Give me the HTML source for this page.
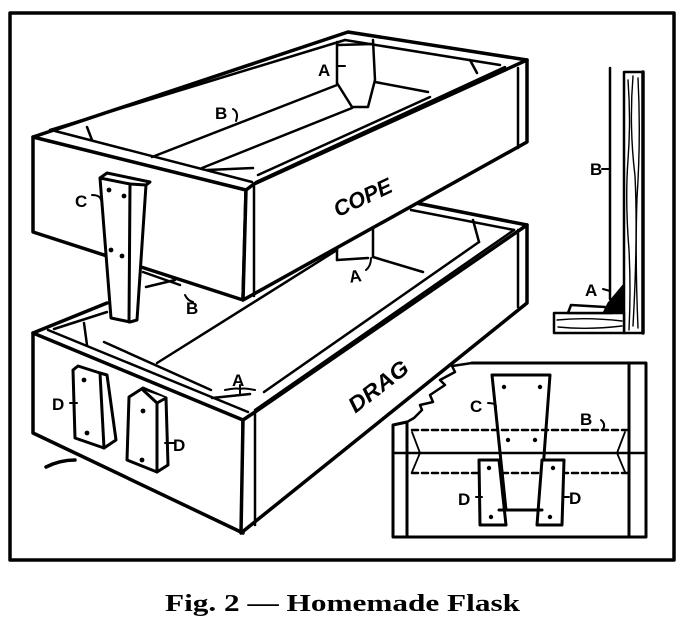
<!DOCTYPE html>
<html><head><meta charset="utf-8"><style>
html,body{margin:0;padding:0;background:#fff;}
svg{display:block;}
text{font-family:"Liberation Sans",sans-serif;font-weight:bold;fill:#000;}
</style></head><body>
<svg width="680" height="634" viewBox="0 0 680 634" xmlns="http://www.w3.org/2000/svg">
<g fill="none" stroke="#000" stroke-linejoin="round" stroke-linecap="round">
<!-- frame -->
<rect x="10" y="13" width="664" height="547" stroke-width="3.5"/>

<!-- DRAG box -->
<g stroke-width="3.5">
<polygon points="33,333 243,420 243,533 33,433" fill="#fff"/>
<polygon points="243,420 255,412 527,225 527,303 241,533" fill="#fff"/>
<line x1="255" y1="412" x2="255" y2="525" stroke-width="2.5"/>
<line x1="518" y1="230" x2="518" y2="307" stroke-width="2.5"/>
<polyline points="33,333 107,303"/>
<line x1="416" y1="203" x2="527" y2="225"/>
</g>
<g stroke-width="2.5">
<line x1="411" y1="210" x2="514" y2="230"/>
<line x1="48" y1="330" x2="248" y2="412"/>
<line x1="54" y1="329" x2="107" y2="312"/>
<line x1="255" y1="410" x2="514" y2="230"/>
<line x1="264" y1="392" x2="479" y2="242"/>
<line x1="157" y1="363" x2="337" y2="250"/>
<line x1="337" y1="248" x2="337" y2="260"/>
<line x1="337" y1="260" x2="368" y2="258"/>
<line x1="373" y1="228" x2="373" y2="257"/>
<line x1="373" y1="257" x2="423" y2="272"/>
<line x1="473" y1="220" x2="479" y2="242"/>
<line x1="84" y1="323" x2="87" y2="345"/>
<line x1="104" y1="342" x2="211" y2="390"/>
<line x1="143" y1="272" x2="180" y2="285"/>
<line x1="146" y1="287" x2="175" y2="280"/>
<line x1="212" y1="398" x2="250" y2="394"/>
</g>
<!-- D pieces -->
<g stroke-width="3" fill="#fff">
<polygon points="73,370 78,366 100,373 107,375 116,440 104,448 75,438"/>
<polyline points="100,373 104,448"/>
<polygon points="129,397 143,388 166,398 168,465 157,472 127,460"/>
<polyline points="143,390 157,403 166,398"/>
<polyline points="157,403 157,472"/>
</g>
<g fill="#000" stroke="none">
<circle cx="84" cy="380" r="2.4"/><circle cx="87" cy="433" r="2.4"/>
<circle cx="143" cy="411" r="2.4"/><circle cx="142" cy="460" r="2.4"/>
</g>
<path d="M46,467 Q60,460 75,460" stroke-width="3.5"/>

<!-- COPE box -->
<g stroke-width="3.5">
<polygon points="33,137 246,190 243,300 33,232" fill="#fff"/>
<polygon points="246,190 254,184 527,60 527,142 243,300" fill="#fff"/>
<polyline points="33,137 348,32 527,60"/>
<line x1="254" y1="186" x2="254" y2="296" stroke-width="2.5"/>
<line x1="518" y1="68" x2="518" y2="148" stroke-width="2.5"/>
</g>
<g stroke-width="2.5">
<line x1="50" y1="130" x2="345" y2="40"/>
<line x1="345" y1="40" x2="500" y2="65"/>
<line x1="55" y1="131" x2="252" y2="182"/>
<line x1="256" y1="182" x2="505" y2="67"/>
<line x1="152" y1="157" x2="337" y2="85"/>
<line x1="202" y1="168" x2="352" y2="108"/>
<line x1="258" y1="175" x2="430" y2="97"/>
<line x1="337" y1="42" x2="337" y2="83"/>
<polyline points="337,83 352,107 368,107 375,80 373,40"/>
<line x1="375" y1="82" x2="428" y2="92"/>
<line x1="470" y1="60" x2="477" y2="73"/>
<line x1="87" y1="127" x2="92" y2="140"/>
<line x1="207" y1="170" x2="253" y2="168"/>
<line x1="338" y1="45" x2="372" y2="44"/>
</g>
<!-- C piece -->
<g stroke-width="3" fill="#fff">
<polygon points="100,178 107,173 150,182 146,185 137,320 130,322 111,318"/>
<polyline points="100,178 130,184 146,185"/>
<line x1="130" y1="184" x2="129" y2="322"/>
</g>
<g fill="#000" stroke="none">
<circle cx="109" cy="190" r="2.4"/><circle cx="124" cy="196" r="2.4"/>
<circle cx="111" cy="250" r="2.4"/><circle cx="122" cy="256" r="2.4"/>
</g>

<!-- label ticks -->
<g stroke-width="2">
<line x1="337" y1="66" x2="345" y2="66"/>
<path d="M233,109 q6,3 3,12"/>
<path d="M92,195 q8,0 9,5"/>
<path d="M371,258 q0,8 -5,12"/>
<path d="M185,295 q3,6 8,7"/>
<path d="M240,390 q0,-3 -15,0 M240,390 q0,-3 15,0 M240,385 v10"/>
<line x1="70" y1="403" x2="77" y2="403"/>
<line x1="165" y1="443" x2="174" y2="443"/>
<line x1="602" y1="169" x2="610" y2="169"/>
<line x1="603" y1="289" x2="610" y2="291"/>
</g>

<!-- right side detail -->
<g stroke-width="2.5">
<line x1="610" y1="68" x2="610" y2="299"/>
<rect x="624" y="72" width="19" height="261" fill="#fff"/>
<path d="M628,80 q3,40 0,80 q-3,40 1,90 q2,40 0,80 M633,76 q-4,50 2,100 q3,60 -2,150 M638,78 q3,60 -1,120 q-2,60 1,130" stroke-width="1.4"/>
<path d="M554,313 L624,313 L624,333 L554,333 Z" fill="#fff"/>
<path d="M557,320 q30,-3 65,1 M558,327 q30,3 64,-1" stroke-width="1.4"/>
<polygon points="571,305 605,307 612,313 568,313" fill="#fff"/>
<polygon points="608,303 623,285 623,313 603,313" fill="#000" stroke-width="1"/>
<line x1="643" y1="72" x2="643" y2="333" stroke-width="3.5"/>
</g>

<!-- inset -->
<g stroke-width="3">
<polyline points="472,363 646,363 646,537 393,537 393,425 407,422"/>
<line x1="407" y1="422" x2="407" y2="537"/>
<line x1="629" y1="363" x2="629" y2="537"/>
<polyline points="407,422 414,418 422,410 420,405 433,402 430,395 445,385 440,380 455,372 452,366 472,363" stroke-width="2.5"/>
<line x1="393" y1="453" x2="646" y2="453" stroke-width="2.5"/>
<line x1="412" y1="430" x2="629" y2="430" stroke-width="2.5" stroke-dasharray="6,4"/>
<line x1="412" y1="473" x2="629" y2="473" stroke-width="2.5" stroke-dasharray="6,4"/>
<polyline points="412,432 420,453 412,472" stroke-width="1.8"/>
<polyline points="625,432 617,453 625,472" stroke-width="1.8"/>
<polygon points="492,375 550,375 540,510 506,510" fill="none"/>
<polygon points="479,460 499,460 506,525 480,525" fill="#fff"/>
<polygon points="542,460 564,460 562,525 537,525" fill="#fff"/>
<line x1="499" y1="510" x2="542" y2="510"/>
</g>
<g fill="#000" stroke="none">
<circle cx="504" cy="387" r="2.2"/><circle cx="540" cy="387" r="2.2"/>
<circle cx="508" cy="440" r="2.2"/><circle cx="535" cy="440" r="2.2"/>
<circle cx="489" cy="468" r="2.2"/><circle cx="491" cy="517" r="2.2"/>
<circle cx="553" cy="468" r="2.2"/><circle cx="550" cy="517" r="2.2"/>
</g>
<g stroke-width="2">
<path d="M488,403 q8,0 8,4"/>
<path d="M601,420 q5,4 2,9"/>
<line x1="476" y1="497" x2="482" y2="497"/>
<line x1="563" y1="497" x2="569" y2="497"/>
</g>
</g>

<!-- labels -->
<g font-size="17">
<text x="318" y="76">A</text>
<text x="215" y="119">B</text>
<text x="75" y="207">C</text>
<text x="349" y="282" transform="rotate(-8 355 275)">A</text>
<text x="186" y="314">B</text>
<text x="232" y="386">A</text>
<text x="52" y="410">D</text>
<text x="173" y="451">D</text>
<text x="590" y="175">B</text>
<text x="585" y="296">A</text>
<text x="470" y="412">C</text>
<text x="580" y="425">B</text>
<text x="458" y="505">D</text>
<text x="569" y="504">D</text>
</g>
<text x="330" y="208" font-size="22" font-style="italic" font-weight="normal" transform="rotate(-25 355 195)" textLength="62" lengthAdjust="spacingAndGlyphs">COPE</text>
<text x="340" y="395" font-size="22" font-style="italic" font-weight="normal" transform="rotate(-38 375 382)" textLength="70" lengthAdjust="spacingAndGlyphs">DRAG</text>
<text x="165" y="611" font-size="24" textLength="355" lengthAdjust="spacingAndGlyphs" style="font-family:'Liberation Serif',serif;font-weight:bold">Fig. 2 — Homemade Flask</text>
</svg>
</body></html>
